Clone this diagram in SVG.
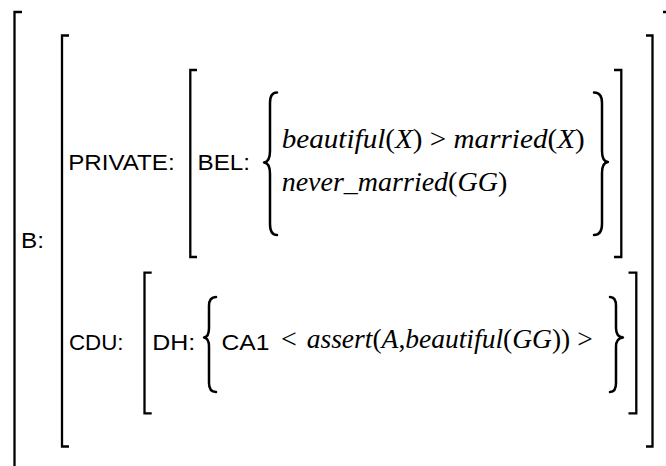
<svg xmlns="http://www.w3.org/2000/svg" width="666" height="466" viewBox="0 0 666 466">
<style>
.br{fill:none;stroke:#000;stroke-width:2.3;stroke-linejoin:miter;stroke-linecap:butt}
.bc{fill:none;stroke:#000;stroke-width:2.5;stroke-linecap:round;stroke-linejoin:round}
.lab{font-family:"Liberation Sans",Arial,sans-serif;font-size:22px;fill:#000}
.math{font-family:"Liberation Serif","Times New Roman",serif;font-style:italic;font-size:28px;fill:#000}
.up{font-style:normal}
.rm{font-family:"Liberation Serif","Times New Roman",serif;font-size:28px;fill:#000}
</style>
<rect width="666" height="466" fill="#fff"/>
<g id="outer">
<path class="br" d="M22,12 H14.5 V470"/>
<path class="br" d="M663,12 H668 V470"/>
<text class="lab" x="21" y="248" textLength="23" lengthAdjust="spacingAndGlyphs">B:</text>
</g>
<g id="B-value">
<path class="br" d="M69,35.5 H62 V446.5 H69"/>
<path class="br" d="M646,35.5 H652.5 V446.5 H646"/>
</g>
<g id="private">
<text class="lab" x="68.2" y="169.5" textLength="106.5" lengthAdjust="spacingAndGlyphs">PRIVATE:</text>
<path class="br" d="M197,70 H190.3 V257 H197"/>
<path class="br" d="M614,70 H621.3 V257 H614"/>
</g>
<g id="bel">
<text class="lab" x="197.5" y="169.5" textLength="52.5" lengthAdjust="spacingAndGlyphs">BEL:</text>
<path class="bc" d="M277,92.5 Q270,92.5 270,103 L270,151 Q270,162 264,162.5 Q270,163 270,174 L270,224 Q270,235 277,235"/>
<path class="bc" d="M594,92.5 Q602,92.5 602,103 L602,151 Q602,161.5 608,162 Q602,162.5 602,173 L602,224 Q602,235 594,235"/>
<text class="math" x="281.7" y="147.5" textLength="303" lengthAdjust="spacingAndGlyphs">beautiful<tspan class="up">(</tspan>X<tspan class="up">) &gt; </tspan>married<tspan class="up">(</tspan>X<tspan class="up">)</tspan></text>
<text class="math" x="281.7" y="191">never_married<tspan class="up">(</tspan>GG<tspan class="up">)</tspan></text>
</g>
<g id="cdu">
<text class="lab" x="68.9" y="349.5" textLength="54.6" lengthAdjust="spacingAndGlyphs">CDU:</text>
<path class="br" d="M151.7,272.7 H144.5 V413.3 H151.7"/>
<path class="br" d="M628.5,272.7 H636.3 V413.3 H628.5"/>
</g>
<g id="dh">
<text class="lab" x="152.3" y="349.5" textLength="43" lengthAdjust="spacingAndGlyphs">DH:</text>
<path class="bc" d="M216,297 Q209,297 209,306 L209,328 Q209,337 204,337.5 Q209,338 209,347 L209,383 Q209,392 216,392"/>
<path class="bc" d="M610,297 Q616,297 616,306 L616,328 Q616,337 623,337.5 Q616,338 616,347 L616,383 Q616,392 610,392"/>
<text class="lab" x="221.5" y="349.5" textLength="48" lengthAdjust="spacingAndGlyphs">CA1</text>
<text class="rm" x="281" y="348">&lt;</text>
<text class="math" x="306.7" y="348" style="font-size:27.5px">assert<tspan class="up">(</tspan>A<tspan class="up">,</tspan>beautiful<tspan class="up">(</tspan>GG<tspan class="up">)) &gt;</tspan></text>
</g>
</svg>
